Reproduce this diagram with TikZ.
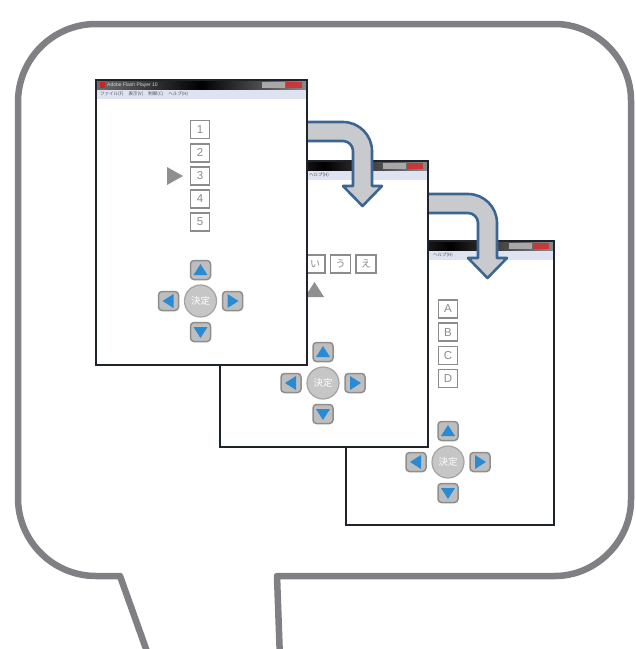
\documentclass[tikz,border=0pt]{standalone}
\usepackage{fontspec}
\setmainfont{Liberation Sans}
\newfontfamily\jp{Noto Sans CJK JP}
\definecolor{bubgray}{HTML}{808084}
\definecolor{winedge}{HTML}{1E2429}
\definecolor{boxgray}{HTML}{8C8C8C}
\definecolor{boxtext}{HTML}{8A8A8A}
\definecolor{ptrgray}{HTML}{8F8F8F}
\definecolor{btnfill}{HTML}{BEBEBE}
\definecolor{btnedge}{HTML}{8E8E8E}
\definecolor{circfill}{HTML}{C6C6C6}
\definecolor{circedge}{HTML}{A3A3A3}
\definecolor{dblue}{HTML}{2A8BD5}
\definecolor{arrfill}{HTML}{C9CACD}
\definecolor{arredge}{HTML}{3D6592}
\definecolor{tbleft}{HTML}{6E6E6E}
\definecolor{tbright}{HTML}{8C8C8C}
\definecolor{menubg}{HTML}{DDE3F1}
\definecolor{ctrlgray}{HTML}{A8A8A8}
\definecolor{ctrlred}{HTML}{C8383A}
\definecolor{iconred}{HTML}{C0282C}
\definecolor{titletext}{HTML}{D4D4D4}
\definecolor{menutext}{HTML}{505050}

\newcommand\winframe[3]{%
  \fill[white] (0,0) rectangle (#2,#3);
  \shade[left color=tbleft, right color=tbright, middle color=black] (0,0) rectangle (#2,10);
  \fill[menubg] (0,10) rectangle (#2,19);
  \fill[ctrlgray] (#2-45,1.5) rectangle (#2-22,7.5);
  \fill[ctrlred] (#2-21,1.5) rectangle (#2-5,7.5);
  \node[winborder, minimum width=#2pt, minimum height=#3pt] (#1) at (0,0) {};
}
\newcommand\dpad[1]{%
  \node[dcirc] (#1c) at (0,0) {決定};
  \node[dbtn] (#1u) at (0,-31) {};
  \node[dbtn] (#1d) at (0,31) {};
  \node[dbtn] (#1l) at (-32,0) {};
  \node[dbtn] (#1r) at (32,0) {};
  \fill[dtri] (0,-37) -- (7,-26) -- (-7,-26) -- cycle;
  \fill[dtri] (0,37) -- (7,26) -- (-7,26) -- cycle;
  \fill[dtri] (-38,0) -- (-27,-7) -- (-27,7) -- cycle;
  \fill[dtri] (38,0) -- (27,-7) -- (27,7) -- cycle;
}
\newcommand\flowarrowpath{%
  \draw[flowarrow] (300,122) -- (343,122) .. controls (359,122) and (372,135) .. (372,151)
    -- (372,186) -- (382,186) -- (362.5,206) -- (343,186) -- (353,186) -- (353,151)
    .. controls (353,145.5) and (348.5,141) .. (343,141) -- (300,141) -- cycle;
}

\begin{document}
\begin{tikzpicture}[x=1pt,y=-1pt,
  bubble/.style={draw=bubgray, line width=6.5pt, fill=white, line join=round},
  winborder/.style={draw=winedge, line width=2pt, inner sep=0, outer sep=0, anchor=north west},
  numbox/.style={draw=boxgray, line width=1.6pt, fill=white, minimum width=19pt, minimum height=18pt, inner sep=0, text=boxtext, font=\fontsize{11.5}{11.5}\selectfont},
  kanabox/.style={numbox, minimum width=20pt, font=\jp\fontsize{10}{10}\selectfont},
  dbtn/.style={draw=btnedge, fill=btnfill, line width=1.5pt, rounded corners=3.5pt, minimum width=20pt, minimum height=19pt, inner sep=0},
  dcirc/.style={circle, draw=circedge, fill=circfill, line width=1.2pt, minimum size=32pt, inner sep=0, text=white, font=\jp\fontsize{9.5}{9.5}\selectfont},
  flowarrow/.style={fill=arrfill, draw=arredge, line width=2.6pt, line join=round},
  pointer/.style={fill=ptrgray},
  dtri/.style={fill=dblue},
  smalltxt/.style={anchor=west, inner sep=0}
]
\useasboundingbox (0,0) rectangle (636,649);
\fill[white] (0,0) rectangle (636,649);

% speech bubble
\draw[bubble] (150,660) -- (120,576) -- (96,576)
  .. controls (52.9,576) and (18,541.1) .. (18,498) -- (18,102)
  .. controls (18,58.9) and (52.9,24) .. (96,24) -- (555,24)
  .. controls (596.1,24) and (631,58.9) .. (631,100) -- (631,500)
  .. controls (631,541.1) and (596.1,576) .. (555,576) -- (277,576) -- (280,660);

% window 3
\begin{scope}[shift={(346,241)}]
  \winframe{w3}{208}{284}
  \node[smalltxt, text=menutext, font=\jp\fontsize{4.5}{4.5}\selectfont] (w3menu) at (87,14.5) {ヘルプ(H)};
  \node[numbox] (bA) at (102,68) {A};
  \node[numbox] (bB) at (102,91.2) {B};
  \node[numbox] (bC) at (102,114.4) {C};
  \node[numbox] (bD) at (102,137.6) {D};
  \begin{scope}[shift={(102,221)}]
    \dpad{c}
  \end{scope}
\end{scope}

% arrow 2
\begin{scope}[shift={(125,72)}]
  \flowarrowpath
\end{scope}

% window 2
\begin{scope}[shift={(220,161)}]
  \winframe{w2}{208}{286}
  \node[smalltxt, text=menutext, font=\jp\fontsize{4.5}{4.5}\selectfont] (w2menu) at (89,14.5) {ヘルプ(H)};
  \node[kanabox] (ki) at (95,103) {い};
  \node[kanabox] (ku) at (120.5,103) {う};
  \node[kanabox] (ke) at (146,103) {え};
  \fill[pointer] (94.5,121) -- (104,136) -- (85,136) -- cycle;
  \begin{scope}[shift={(103,222)}]
    \dpad{b}
  \end{scope}
\end{scope}

% arrow 1
\flowarrowpath

% window 1
\begin{scope}[shift={(96,80)}]
  \winframe{w1}{211}{285}
  \fill[iconred] (3.5,2) rectangle (9,8);
  \node[smalltxt, text=titletext, font=\fontsize{5}{5}\selectfont] (w1title) at (11,5) {Adobe Flash Player 10};
  \node[smalltxt, text=menutext, font=\jp\fontsize{4.5}{4.5}\selectfont] (w1menu) at (4,14.5)
    {ファイル(F)\hspace{5pt}表示(V)\hspace{5pt}制御(C)\hspace{5pt}ヘルプ(H)};
  \node[numbox] (b1) at (104,49.5) {1};
  \node[numbox] (b2) at (104,72.7) {2};
  \node[numbox] (b3) at (104,95.7) {3};
  \node[numbox] (b4) at (104,118.8) {4};
  \node[numbox] (b5) at (104,141.9) {5};
  \fill[pointer] (87,96) -- (71,87) -- (71,105) -- cycle;
  \begin{scope}[shift={(104.5,221)}]
    \dpad{a}
  \end{scope}
\end{scope}
\end{tikzpicture}
\end{document}
